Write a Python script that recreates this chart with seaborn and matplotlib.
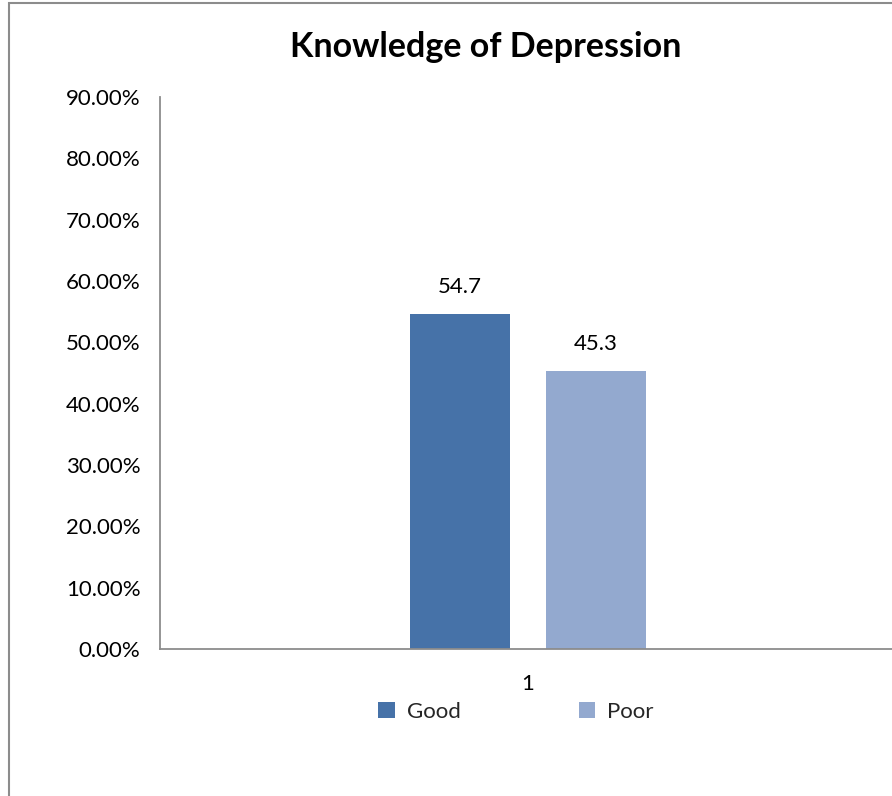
import matplotlib
matplotlib.use("Agg")
import matplotlib.pyplot as plt
import seaborn as sns
import pandas as pd
from matplotlib.patches import Rectangle, Patch

categories = ["1", "1"]
series = ["Good", "Poor"]
values = [54.7, 45.3]
value_labels = ["54.7", "45.3"]
yticks = [0, 10, 20, 30, 40, 50, 60, 70, 80, 90]
ytick_labels = [f"{t:.2f}%" for t in yticks]
title = "Knowledge of Depression"
colors = ["#4672a8", "#93a9cf"]

sns.set_theme(style="white")
plt.rcParams["font.family"] = ["Lato", "DejaVu Sans"]

df = pd.DataFrame({"cat": categories, "series": series, "value": values})

W, H = 892, 796
fig = plt.figure(figsize=(W / 100, H / 100), dpi=100)
ax = fig.add_axes([160 / W, 1 - 649 / H, (896 - 160) / W, (649 - 97) / H])

sns.barplot(data=df, x="cat", y="value", hue="series", palette=colors,
            width=0.37, gap=0.26, ax=ax, legend=False, saturation=1, linewidth=0)

for cont, lab in zip(ax.containers, value_labels):
    ax.bar_label(cont, labels=[lab], padding=12, fontsize=16, color="#000000")

ax.set_ylim(0, 90)
ax.set_xlim(-0.5, 0.5)
ax.set_yticks(yticks)
ax.set_yticklabels(ytick_labels, fontsize=16, color="#000000")
ax.tick_params(axis="y", length=0, pad=14)
ax.tick_params(axis="x", length=0, pad=18, labelsize=16, labelcolor="#000000")
ax.set_xlabel("")
ax.set_ylabel("")
for s in ["top", "right"]:
    ax.spines[s].set_visible(False)
for s in ["left", "bottom"]:
    ax.spines[s].set_color("#8c8c8c")
    ax.spines[s].set_linewidth(1.3)

fig.text(486 / W, 1 - 47 / H, title, ha="center", va="center",
         fontsize=24.5, fontweight="bold", color="#000000")

handles = [Patch(facecolor=c, edgecolor="none") for c in colors]
fig.legend(handles, series, loc="center", bbox_to_anchor=(516 / W, 1 - 712 / H),
           ncol=2, frameon=False, fontsize=16, handlelength=0.75, handleheight=0.75,
           handletextpad=0.55, columnspacing=5.3)

fig.add_artist(Rectangle((9 / W, -0.1), 2, 1 - 3 / H + 0.1, transform=fig.transFigure,
                         fill=False, edgecolor="#8c8c8c", linewidth=1.5))

fig.savefig("out.png", dpi=100, facecolor="white")
